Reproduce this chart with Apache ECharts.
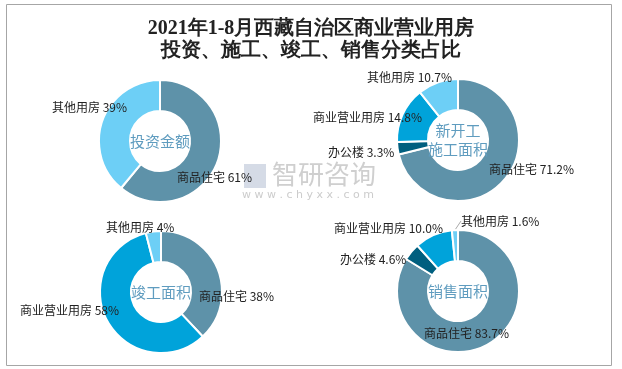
<!DOCTYPE html>
<html><head><meta charset="utf-8">
<script src="https://cdn.jsdelivr.net/npm/echarts@6/dist/echarts.min.js"></script>
<style>html,body{margin:0;padding:0;background:#fff}#c{width:622px;height:369px}</style>
</head><body><div id="c"></div>
<script>
const titleLines = ['2021年1-8月西藏自治区商业营业用房', '投资、施工、竣工、销售分类占比'];
const centerTitles = ['投资金额', '新开工\n施工面积', '竣工面积', '销售面积'];

const invNames = ['商品住宅', '其他用房'];
const invValues = [61, 39];
const newNames = ['商品住宅', '办公楼', '商业营业用房', '其他用房'];
const newValues = [71.2, 3.3, 14.8, 10.7];
const compNames = ['商品住宅', '商业营业用房', '其他用房'];
const compValues = [38, 58, 4];
const saleNames = ['商品住宅', '办公楼', '商业营业用房', '其他用房'];
const saleValues = [83.7, 4.6, 10.0, 1.6];
const decimals = [0, 1, 0, 1];

const colorMap = {'商品住宅':'#5e92a9','其他用房':'#6dcff6','商业营业用房':'#00a3da','办公楼':'#005f7f'};

const centers = [[160,141],[458,140],[161,292],[458,291]];
const labelPos = [
  [[177,177],[52,107]],
  [[489,169],[328,152],[313,117],[367,77]],
  [[199,296],[20,310],[106,227]],
  [[424,333],[340,259],[334,228],[461,221]]
];

const pies = [[invNames,invValues],[newNames,newValues],[compNames,compValues],[saleNames,saleValues]];

const series = pies.map(function(p, si){
  return {
    type:'pie', center: centers[si], radius:[30,61], startAngle:90, clockwise:true,
    avoidLabelOverlap:false, z:2,
    itemStyle:{borderColor:'#fff', borderWidth:2},
    label:{show:true, position:'outside', fontFamily:'Noto Sans CJK SC', fontSize:12, color:'#222',
      formatter:function(pr){ return pr.name + ' ' + pr.value.toFixed(decimals[si]) + '%'; }},
    labelLine:{show:false},
    emphasis:{disabled:true},
    labelLayout:function(params){
      const pos = labelPos[si][params.dataIndex];
      return {x:pos[0], y:pos[1], align:'left', verticalAlign:'middle'};
    },
    data:p[0].map(function(n,i){
      const d = {name:n, value:p[1][i], itemStyle:{color:colorMap[n]}};
      if (si===3 && n==='其他用房') {
        d.labelLine = {show:true, length:1, length2:0, lineStyle:{color:'#aaa', width:1}};
      }
      return d;
    })
  };
});

const centerTexts = centerTitles.map(function(t, i){
  return {type:'text', x:centers[i][0], y:centers[i][1], z:100,
    style:{text:t, align:'center', verticalAlign:'middle', font:'15px "Noto Sans CJK SC"', fill:'#5f9cbf', lineHeight:19}};
});

const chart = echarts.init(document.getElementById('c'));
chart.setOption({
  animation:false,
  backgroundColor:'#fff',
  title: {
    text: titleLines.join('\n'), left:'center', top:13,
    textStyle:{fontFamily:'serif', fontSize:20, fontWeight:'bold', color:'#222', lineHeight:22}
  },
  graphic:[
    {type:'rect', shape:{x:6.5,y:4.5,width:605,height:361}, style:{fill:null, stroke:'#a6a6a6', lineWidth:1}, z:-1},
    {type:'text', left:272, top:161, style:{text:'智研咨询', font:'26px "Noto Sans CJK SC"', fill:'#cfcfcf'}, z:0},
    {type:'text', left:242, top:190, style:{text:'w w w . c h y x x . c o m', font:'11px "DejaVu Sans"', fill:'#cccccc'}, z:0},
    {type:'rect', shape:{x:244,y:164,width:22,height:24}, style:{fill:'#d5dbe6'}, z:0}
  ].concat(centerTexts),
  series: series
});
</script></body></html>
